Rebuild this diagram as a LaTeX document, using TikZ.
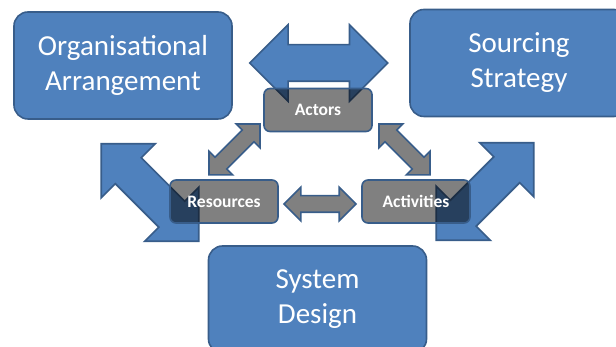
\documentclass[tikz,border=0pt]{standalone}
\usepackage{fontspec}
\setmainfont{Carlito}
\usetikzlibrary{shapes.arrows}
\definecolor{blockblue}{RGB}{79,129,189}
\definecolor{edgeblue}{RGB}{56,93,138}
\definecolor{coregray}{RGB}{128,128,128}

\begin{document}
\begin{tikzpicture}[x=1pt,y=1pt,
  area/.style={draw=edgeblue,line width=1.6pt,fill=blockblue,rounded corners=14pt,
    minimum width=218pt,minimum height=107pt,align=center,text=white,
    font=\fontsize{29}{35}\selectfont},
  core/.style={draw=edgeblue,line width=1.6pt,rounded corners=6pt,
    preaction={fill=coregray,blend mode=multiply},
    minimum width=108pt,minimum height=43pt,text=white,font=\fontsize{17.5}{20}\selectfont\bfseries},
  bigarrow/.style={double arrow,draw=edgeblue,line width=1.6pt,fill=blockblue,
    inner xsep=0pt,inner ysep=17.5pt,minimum height=138pt,double arrow head extend=20pt},
  smallarrow/.style={double arrow,draw=edgeblue,line width=1.6pt,fill=coregray,
    inner xsep=0pt,inner ysep=7.5pt,minimum height=72pt,double arrow head extend=8.5pt}]
\useasboundingbox (0,0) rectangle (616,347);
% outer areas
\node[area] (org) at (123,281.5) {Organisational\\Arrangement};
\node[area] (sourcing) at (519,284) {Sourcing\\Strategy};
\node[area] (system) at (317.5,47.5) {System\\Design};
% blue links, drawn first so the core boxes darken them
\node[bigarrow] (orglink) at (318.75,284) {};
\node[bigarrow,rotate=-45] (syslink) at (150,154.5) {};
\node[bigarrow,rotate=45] (srclink) at (485,155.5) {};
% core triangle
\node[core] (actors) at (318,237) {Actors};
\node[core] (resources) at (224,145.5) {Resources};
\node[core] (activities) at (416,145.5) {Activities};
\node[smallarrow,rotate=45] (resact) at (234.5,197.5) {};
\node[smallarrow,rotate=-45] (actact) at (404.5,197.5) {};
\node[smallarrow] (resacv) at (320,143) {};
\end{tikzpicture}
\end{document}
